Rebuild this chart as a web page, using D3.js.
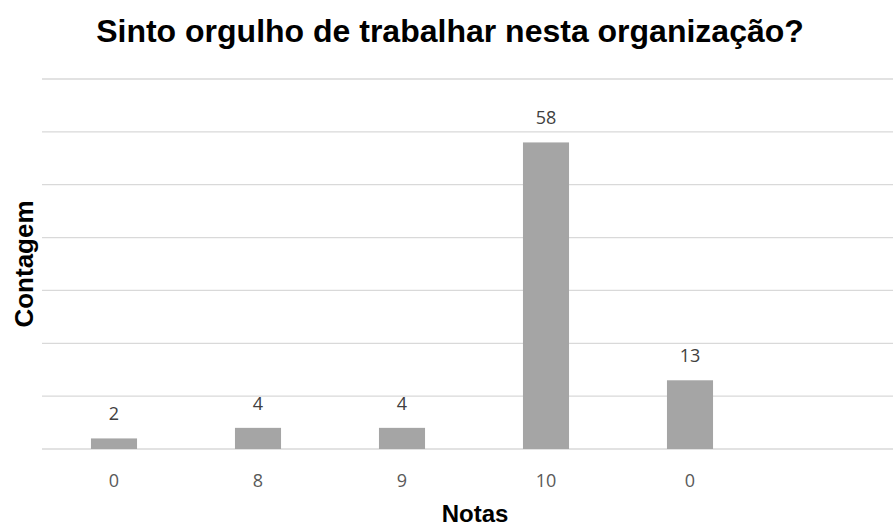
<!DOCTYPE html>
<html><head><meta charset="utf-8">
<script src="https://cdn.jsdelivr.net/npm/d3@7"></script>
<style>body{margin:0;background:#fff}svg{display:block}</style>
</head><body>
<svg id="c" width="893" height="528"></svg>
<script>
const categories = ["0", "8", "9", "10", "0"];
const values = [2, 4, 4, 58, 13];
const yTicks = [0, 10, 20, 30, 40, 50, 60, 70];
const titleText = "Sinto orgulho de trabalhar nesta organização?";
const xTitle = "Notas";
const yTitle = "Contagem";

(function () {
const svg = d3.select("#c");
const W = 893, H = 528;
const mLeft = 42, mRight = 906, mTop = 79, mBottom = 449;
const idx = d3.range(categories.length + 1);
const x = d3.scaleBand().domain(idx).range([mLeft, mRight]).paddingInner(0.68).paddingOuter(0.34);
const y = d3.scaleLinear().domain([0, 70]).range([mBottom, mTop]);

svg.append("g").selectAll("line").data(yTicks).join("line")
  .attr("x1", mLeft).attr("x2", W).attr("y1", d => y(d)).attr("y2", d => y(d))
  .attr("stroke", "#d9d9d9").attr("stroke-width", 1.3);

svg.append("g").selectAll("rect").data(values).join("rect")
  .attr("x", (d, i) => x(i)).attr("width", x.bandwidth())
  .attr("y", d => y(d)).attr("height", d => y(0) - y(d))
  .attr("fill", "#a5a5a5");

svg.append("g").selectAll("text").data(values).join("text")
  .attr("x", (d, i) => x(i) + x.bandwidth() / 2).attr("y", d => y(d) - 18)
  .attr("text-anchor", "middle").attr("font-family", "'Open Sans', sans-serif")
  .attr("font-size", 18).attr("fill", "#404040").text(d => d);

svg.append("g").selectAll("text").data(categories).join("text")
  .attr("x", (d, i) => x(i) + x.bandwidth() / 2).attr("y", 487)
  .attr("text-anchor", "middle").attr("font-family", "'Open Sans', sans-serif")
  .attr("font-size", 18).attr("fill", "#595959").text(d => d);

svg.append("text").attr("x", 450).attr("y", 42).attr("text-anchor", "middle")
  .attr("font-family", "'Liberation Sans', Arial, sans-serif").attr("font-weight", "bold")
  .attr("font-size", 32).attr("fill", "#000").text(titleText);

svg.append("text").attr("x", 475).attr("y", 522).attr("text-anchor", "middle")
  .attr("font-family", "'Liberation Sans', Arial, sans-serif").attr("font-weight", "bold")
  .attr("font-size", 24).attr("fill", "#000").text(xTitle);

svg.append("text").attr("transform", "translate(33,264) rotate(-90)").attr("text-anchor", "middle")
  .attr("font-family", "'Liberation Sans', Arial, sans-serif").attr("font-weight", "bold")
  .attr("font-size", 26).attr("fill", "#000").text(yTitle);
})();
</script>
</body></html>
